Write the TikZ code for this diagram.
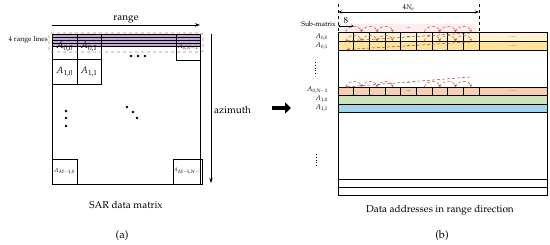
\documentclass[tikz,border=0pt]{standalone}
\usepackage[T1]{fontenc}
\usepackage{mathpazo}
\usepackage{xcolor}
\usepackage{tikz}
\usetikzlibrary{arrows.meta, positioning, calc}

\definecolor{bandviolet}{RGB}{196,168,214}
\definecolor{bandedge}{RGB}{196,130,96}
\definecolor{arcred}{RGB}{200,88,62}
\definecolor{arcpink}{RGB}{253,236,240}
\definecolor{rowyellow}{RGB}{255,243,205}
\definecolor{rowgold}{RGB}{255,228,150}
\definecolor{rowpeach}{RGB}{248,206,178}
\definecolor{rowgreen}{RGB}{204,228,188}
\definecolor{rowblue}{RGB}{160,212,236}

\begin{document}
\begin{tikzpicture}[x=1pt, y=1pt,
    cellbox/.style={draw, line width=0.6pt, inner sep=0pt},
    rowbox/.style={draw, fill=#1, line width=0.5pt, inner sep=0pt, minimum width=209pt, anchor=north west},
    hop/.style={-{Stealth[length=2.5pt,width=2.5pt]}, arcred, densely dashed, line width=0.5pt},
    backline/.style={-{Stealth[length=2.5pt,width=2.5pt]}, arcred!80!black, dash pattern=on 3pt off 2pt, line width=0.5pt},
    bullet/.style={circle, fill, inner sep=0pt, minimum size=2.6pt},
    txt/.style={font=\fontsize{10}{12}\selectfont, inner sep=1pt},
    smalltxt/.style={font=\fontsize{7}{8}\selectfont, inner sep=1pt},
    tinytxt/.style={font=\fontsize{5}{6}\selectfont, inner sep=0pt},
    >=Stealth
]
\useasboundingbox (0,0) rectangle (550,245);

% (a) SAR data matrix
\fill[bandviolet] (52,199) rectangle (200,211);
\foreach \y in {199,202,205,208} \draw[line width=0.4pt] (52,\y) -- (200,\y);
\node[draw, line width=0.6pt, minimum width=148pt, minimum height=150pt, inner sep=0pt] (sar) at (126,136) {};
\node[cellbox, minimum width=25pt, minimum height=25pt, font=\fontsize{9.5}{11}\selectfont] (a00) at (64.5,198.5) {$A_{0,0}$};
\node[cellbox, minimum width=24pt, minimum height=25pt, font=\fontsize{9.5}{11}\selectfont] (a01) at (89,198.5) {$A_{0,1}$};
\node[cellbox, minimum width=25pt, minimum height=25pt, font=\fontsize{9.5}{11}\selectfont] (a10) at (64.5,173.5) {$A_{1,0}$};
\node[cellbox, minimum width=24pt, minimum height=25pt, font=\fontsize{9.5}{11}\selectfont] (a11) at (89,173.5) {$A_{1,1}$};
\node[cellbox, minimum width=24pt, minimum height=26pt, font=\fontsize{6}{7}\selectfont] (a0n) at (188,198) {$A_{0,N-1}$};
\node[cellbox, minimum width=25pt, minimum height=25pt, font=\fontsize{6}{7}\selectfont] (am0) at (64.5,73.5) {$A_{M-1,0}$};
\node[cellbox, minimum width=24pt, minimum height=25pt, font=\fontsize{5}{6}\selectfont] (amn) at (188,73.5) {$A_{M-1,N-1}$};
\draw[bandedge, dashed, line width=0.6pt, rounded corners=2pt] (49,193) rectangle (203,212);

% dots
\node[bullet] (h1) at (131,189) {};
\node[bullet] (h2) at (138,189) {};
\node[bullet] (h3) at (145,189) {};
\node[bullet] (v1) at (66,134) {};
\node[bullet] (v2) at (66,127) {};
\node[bullet] (v3) at (66,119) {};
\node[bullet] (g1) at (127,138) {};
\node[bullet] (g2) at (133,133) {};
\node[bullet] (g3) at (137,127) {};

% range and azimuth
\coordinate (rgL) at (52,220);
\coordinate (rgR) at (200,220);
\draw[-{Stealth[length=5pt,width=3.5pt]}, line width=0.6pt] (rgL) -- node[txt, above] (rg) {range} (rgR);
\node[smalltxt, anchor=east] (rl) at (49,205) {4 range lines};
\coordinate (azT) at (211,211);
\coordinate (azB) at (211,62);
\draw[-{Stealth[length=5pt,width=3.5pt]}, line width=0.6pt] (azT) -- (azB);
\node[txt, anchor=west] (az) at (213,135) {azimuth};
\node[txt] (capa) at (126,40) {SAR data matrix};
\node[font=\fontsize{11}{13}\selectfont] (taga) at (122,9) {(a)};

% big arrow
\coordinate (bigL) at (272,137);
\coordinate (bigR) at (291,137);
\draw[line width=4.5pt, -{Triangle[length=6pt,width=11pt]}] (bigL) -- (bigR);

% (b) data addresses
\fill[arcpink] (343,213) rectangle (476,221);
\fill[arcpink] (343,158) rectangle (476,166);
\node[rowbox=white, minimum height=163pt] (mem) at (338,213) {};
\node[rowbox=rowyellow, minimum height=9pt] (r1) at (338,213) {};
\node[rowbox=rowgold, minimum height=9pt] (r2) at (338,204) {};
\node[rowbox=rowpeach, minimum height=8.5pt] (r3) at (338,158) {};
\node[rowbox=rowgreen, minimum height=8.5pt] (r4) at (338,149.5) {};
\node[rowbox=rowblue, minimum height=8.5pt] (r5) at (338,141) {};
\draw[line width=0.5pt] (338,66) -- (547,66);
\draw[line width=0.5pt] (338,58) -- (547,58);

\foreach \r in {r1,r2,r3} {
  \foreach \k in {1,...,9}
    \draw[line width=0.5pt] ($(\r.north west)+(\k*15.667,0)$) -- ($(\r.south west)+(\k*15.667,0)$);
  \foreach \k in {0,...,8}
    \coordinate (\r-t\k) at ($(\r.north west)+({(\k+0.5)*15.667},0)$);
  \node[tinytxt] (\r-mid) at ($(\r.west)+(70.5,0)$) {\textbf{...}};
  \node[tinytxt] (\r-far) at ($(\r.west)+(175,0)$) {......};
  \node[tinytxt] (\r-gap) at ($(\r.north west)+(70.5,4)$) {\textbf{...}};
  \foreach \a/\b in {0/1,1/2,2/3,5/6,6/7,7/8}
    \draw[hop] (\r-t\a) to[out=75, in=105, looseness=1.2] (\r-t\b);
}

% return lines
\coordinate (r1-end) at ($(r1.north west)+(132,-1)$);
\coordinate (r2-end) at ($(r2.north west)+(132,-1)$);
\coordinate (r2-out) at ($(r2.south west)+(9,1)$);
\coordinate (r3-in) at ($(r3.north west)+(132,10)$);
\draw[backline] (r1-end) -- (r2-t0);
\draw[backline] (r2-end) -- (r2-out);
\draw[backline] (r3-in) -- (r3-t0);

% 4N_a and sub-matrix
\coordinate (dimL) at (338,241);
\coordinate (dimR) at (479,241);
\draw[dashed, line width=0.5pt] (dimL) -- (r1.north west);
\draw[dashed, line width=0.5pt] (dimR) -- (dimR |- r1.north);
\draw[{Stealth[length=4pt,width=3pt]}-{Stealth[length=4pt,width=3pt]}, line width=0.5pt]
  ($(dimL)+(0,-8)$) -- node[smalltxt, above] (na) {$4N_a$} ($(dimR)+(0,-8)$);
\node[smalltxt, anchor=east] (sub) at (337,221) {Sub-matrix};
\coordinate (sbL) at (338,219);
\coordinate (sbR) at (353.7,219);
\draw[{Stealth[length=2.5pt,width=2.5pt]}-{Stealth[length=2.5pt,width=2.5pt]}, line width=0.5pt]
  (sbL) -- node[font=\fontsize{9}{10}\selectfont, above=-1.5pt] (eight) {8} (sbR);

% row labels
\node[smalltxt, anchor=east] (l00) at (329,208.5) {$A_{0,0}$};
\node[smalltxt, anchor=east] (l01) at (329,199.5) {$A_{0,1}$};
\node[smalltxt, anchor=east] (l0n) at (329,155) {$A_{0,N-1}$};
\node[smalltxt, anchor=east] (l10) at (329,146) {$A_{1,0}$};
\node[smalltxt, anchor=east] (l11) at (329,137) {$A_{1,1}$};
\coordinate (vd1a) at (315,183);
\coordinate (vd1b) at (315,169);
\coordinate (vd2a) at (316,91);
\coordinate (vd2b) at (316,78);
\draw[dotted, line width=0.8pt] (vd1a) -- (vd1b);
\draw[dotted, line width=0.8pt] (vd2a) -- (vd2b);

\node[txt] (capb) at (440,35) {Data addresses in range direction};
\node[font=\fontsize{11}{13}\selectfont] (tagb) at (442,9) {(b)};

\end{tikzpicture}
\end{document}
